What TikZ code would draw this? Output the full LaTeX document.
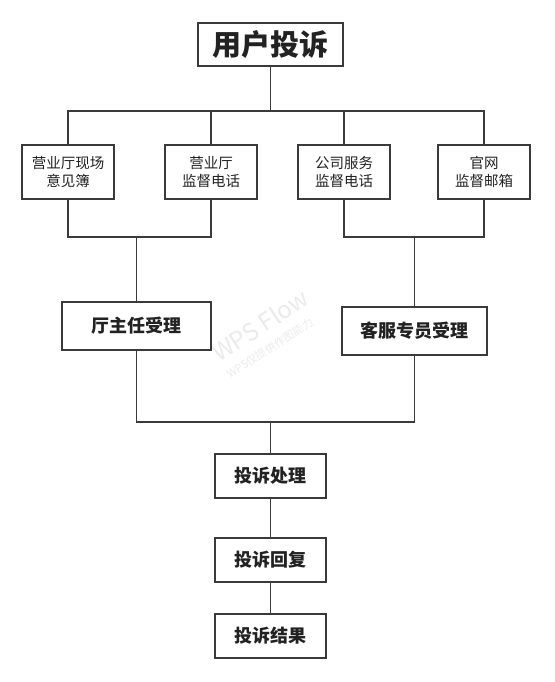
\documentclass[tikz,border=0pt]{standalone}
\usepackage{fontspec}
\setmainfont{Noto Sans CJK SC}
\usetikzlibrary{positioning}
\definecolor{linec}{HTML}{3A3A3A}
\definecolor{textc}{HTML}{222222}
\begin{document}
\begin{tikzpicture}[x=1pt,y=-1pt,
  box/.style={draw=linec,line width=1.6pt,fill=white,rectangle,inner sep=0pt,align=center,text=textc},
  smallbox/.style={box,minimum width=92pt,minimum height=54pt,font=\fontsize{14.5}{18}\selectfont},
  midbox/.style={box,minimum height=48pt,font=\bfseries\fontsize{18}{22}\selectfont},
  lowbox/.style={box,minimum width=111pt,minimum height=44pt,font=\bfseries\fontsize{18}{22}\selectfont},
  conn/.style={draw=linec,line width=1.6pt},
  wmark/.style={rotate=33,text=black!8,inner sep=0pt}]
\useasboundingbox (0,0) rectangle (554,682);
% watermark
\node[wmark,font=\fontsize{24}{26}\selectfont] (wm1) at (260,325) {WPS Flow};
\node[wmark,font=\fontsize{11}{12}\selectfont] (wm2) at (270,348) {WPS仅提供作图能力};
% nodes
\node[box,minimum width=145pt,minimum height=43pt,font=\bfseries\fontsize{29}{32}\selectfont] (t) at (270.5,44.5) {用户投诉};
\node[smallbox] (a) at (68,172) {营业厅现场\\意见簿};
\node[smallbox] (b) at (211,172) {营业厅\\监督电话};
\node[smallbox] (c) at (344,172) {公司服务\\监督电话};
\node[smallbox] (d) at (484,172) {官网\\监督邮箱};
\node[midbox,minimum width=149pt] (e) at (136.5,326) {厅主任受理};
\node[midbox,minimum width=145pt] (f) at (414.5,331) {客服专员受理};
\node[lowbox] (g) at (270.5,476) {投诉处理};
\node[lowbox] (h) at (270.5,560) {投诉回复};
\node[lowbox] (i) at (270.5,636) {投诉结果};
% bus coordinates
\coordinate (bus1) at (0,111);
\coordinate (bus2) at (0,237);
\coordinate (bus3) at (0,422);
% connectors
\draw[conn] (t.south) -- (t.south|-bus1);
\draw[conn] (a.north) -- (a.north|-bus1) -- (d.north|-bus1) -- (d.north);
\draw[conn] (b.north) -- (b.north|-bus1);
\draw[conn] (c.north) -- (c.north|-bus1);
\draw[conn] (a.south) -- (a.south|-bus2) -- (b.south|-bus2) -- (b.south);
\draw[conn] (c.south) -- (c.south|-bus2) -- (d.south|-bus2) -- (d.south);
\draw[conn] (e.north) -- (e.north|-bus2);
\draw[conn] (f.north) -- (f.north|-bus2);
\draw[conn] (e.south) -- (e.south|-bus3) -- (f.south|-bus3) -- (f.south);
\draw[conn] (g.north) -- (g.north|-bus3);
\draw[conn] (g.south) -- (h.north);
\draw[conn] (h.south) -- (i.north);
\end{tikzpicture}
\end{document}
